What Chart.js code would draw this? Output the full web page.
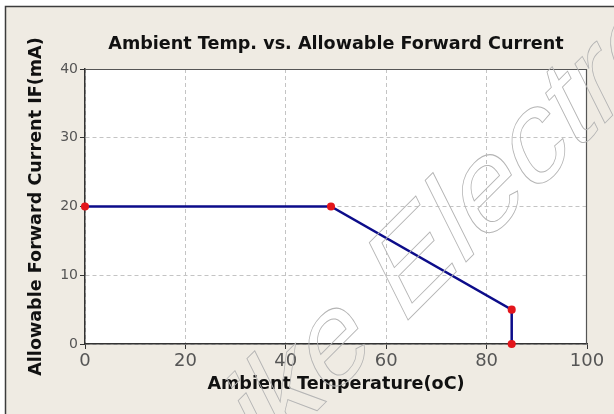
<!DOCTYPE html>
<html>
<head>
<meta charset="utf-8">
<title>Ambient Temp. vs. Allowable Forward Current</title>
<script src="https://cdn.jsdelivr.net/npm/chart.js@4.4.0/dist/chart.umd.min.js"></script>
<style>
  html, body { margin: 0; padding: 0; background: #ffffff; }
  #wrap { width: 614px; height: 414px; position: relative; }
</style>
</head>
<body>
<div id="wrap"><canvas id="derating"></canvas></div>
<script>
// values
var ambientTemp = [0, 49, 85, 85];
var forwardCurrent = [20, 20, 5, 0];
var xTickValues = [0, 20, 40, 60, 80, 100];
var yTickValues = [0, 10, 20, 30, 40];

var titleText = 'Ambient Temp. vs. Allowable Forward Current';
var xTitle = 'Ambient Temperature(oC)';
var yTitle = 'Allowable Forward Current IF(mA)';

var points = [];
for (var i = 0; i < ambientTemp.length; i++) {
  points.push({ x: ambientTemp[i], y: forwardCurrent[i] });
}

// background, plot frame and watermark
var framePlugin = {
  id: 'frame',
  beforeDraw: function (chart) {
    var ctx = chart.ctx, a = chart.chartArea;
    ctx.save();
    ctx.fillStyle = '#ffffff';
    ctx.fillRect(0, 0, chart.width, chart.height);
    ctx.fillStyle = '#efebe3';
    ctx.fillRect(6, 7, chart.width - 6, chart.height - 7);
    ctx.strokeStyle = '#3c3c3c';
    ctx.lineWidth = 1.5;
    ctx.beginPath();
    ctx.moveTo(5.5, chart.height);
    ctx.lineTo(5.5, 6.5);
    ctx.lineTo(chart.width, 6.5);
    ctx.stroke();
    ctx.fillStyle = '#ffffff';
    ctx.fillRect(a.left, a.top, a.right - a.left, a.bottom - a.top);
    ctx.restore();
  },
  beforeDatasetsDraw: function (chart) {
    var ctx = chart.ctx, a = chart.chartArea;
    ctx.save();
    ctx.strokeStyle = '#555555';
    ctx.lineWidth = 1.2;
    ctx.beginPath();
    ctx.moveTo(a.left, a.top + 0.5);
    ctx.lineTo(a.right - 0.5, a.top + 0.5);
    ctx.lineTo(a.right - 0.5, a.bottom);
    ctx.stroke();
    ctx.restore();
  },
  afterDraw: function (chart) {
    var ctx = chart.ctx;
    ctx.save();
    ctx.setTransform(0.707, -0.707, 0.447, 0.894, 262, 466);
    ctx.font = '126px "Liberation Sans"';
    ctx.strokeStyle = '#b4b4b4';
    ctx.lineWidth = 0.9;
    ctx.strokeText('ike Electro', 0, 0);
    ctx.restore();
  }
};

var gridColor = '#c4c4c4';

var ctx = document.getElementById('derating').getContext('2d');
var chart = new Chart(ctx, {
  type: 'scatter',
  data: {
    datasets: [{
      data: points,
      showLine: true,
      borderColor: '#0c0c8a',
      borderWidth: 2.5,
      pointBackgroundColor: '#e3161c',
      pointBorderColor: '#e3161c',
      pointRadius: 2.8,
      pointHoverRadius: 2.8,
      clip: false
    }]
  },
  options: {
    responsive: true,
    maintainAspectRatio: false,
    animation: false,
    layout: { padding: { left: 0, right: 27, top: 0, bottom: 0 } },
    plugins: {
      legend: { display: false },
      tooltip: { enabled: false },
      title: {
        display: true,
        text: titleText,
        fullSize: false,
        color: '#111111',
        font: { family: 'DejaVu Sans', size: 17.6, weight: 'bold' },
        padding: { top: 33.5, bottom: 14.4 }
      }
    },
    scales: {
      x: {
        type: 'linear',
        min: 0,
        max: 100,
        afterBuildTicks: function (scale) {
          scale.ticks = xTickValues.map(function (v) { return { value: v }; });
        },
        afterFit: function (scale) { scale.height = 70; },
        grid: {
          color: function (c) { return c.tick && c.tick.value === 100 ? 'rgba(0,0,0,0)' : gridColor; },
          tickColor: '#333333',
          tickBorderDash: [],
          tickLength: 5,
          lineWidth: 1
        },
        border: { color: '#333333', width: 1.5, dash: [4, 3] },
        ticks: {
          color: '#555555',
          padding: 2,
          maxRotation: 0,
          font: { family: 'DejaVu Sans', size: 18 }
        },
        title: {
          display: true,
          text: xTitle,
          color: '#111111',
          font: { family: 'DejaVu Sans', size: 17.6, weight: 'bold' },
          padding: { top: 19, bottom: 19 }
        }
      },
      y: {
        type: 'linear',
        min: 0,
        max: 40,
        afterBuildTicks: function (scale) {
          scale.ticks = yTickValues.map(function (v) { return { value: v }; });
        },
        afterFit: function (scale) { scale.width = 85; },
        grid: {
          color: function (c) { return c.tick && c.tick.value === 40 ? 'rgba(0,0,0,0)' : gridColor; },
          tickColor: '#333333',
          tickBorderDash: [],
          tickLength: 5,
          lineWidth: 1
        },
        border: { color: '#333333', width: 1.5, dash: [4, 3] },
        ticks: {
          color: '#555555',
          padding: 2,
          font: { family: 'DejaVu Sans', size: 14 }
        },
        title: {
          display: true,
          text: yTitle,
          color: '#111111',
          font: { family: 'DejaVu Sans', size: 17.6, weight: 'bold' },
          padding: { top: 26, bottom: 26 }
        }
      }
    }
  },
  plugins: [framePlugin]
});
</script>
</body>
</html>
